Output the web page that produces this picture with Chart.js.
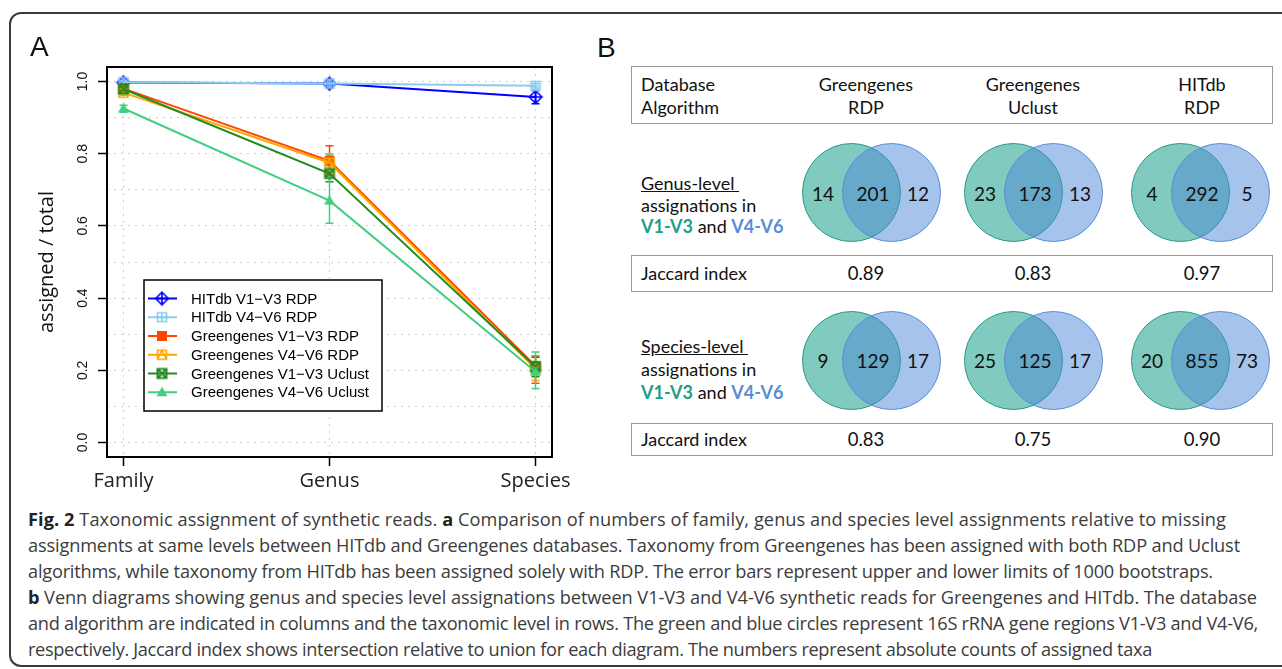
<!DOCTYPE html>
<html><head><meta charset="utf-8">
<script src="https://cdn.jsdelivr.net/npm/chart.js@4.4.0/dist/chart.umd.min.js"></script>
<style>
html,body{margin:0;padding:0;background:#fff;width:1282px;height:669px;overflow:hidden;position:relative;}
#frame{position:absolute;left:9px;top:12px;width:1300px;height:655px;border:2px solid #3a3a3a;border-radius:12px;box-sizing:border-box;}
#chartA{position:absolute;left:0;top:0;}
.lab{position:absolute;font-family:"Liberation Sans",Arial,sans-serif;font-size:28px;line-height:1;color:#111;}
.t{position:absolute;white-space:nowrap;line-height:1;font-family:Lato,sans-serif;font-size:18px;color:#111;}
.box{position:absolute;border:1px solid #9a9a9a;box-sizing:border-box;}
.ell{position:absolute;border-radius:50%;box-sizing:border-box;}
#caption{position:absolute;left:28px;top:506px;font-family:"Open Sans",sans-serif;font-size:18.2px;line-height:26px;color:#3c3c3c;}
#caption div{white-space:nowrap;}
#caption b{color:#222;}
</style></head>
<body>
<div id="frame"></div>
<canvas id="chartA" width="590" height="500"></canvas>
<div class="lab" style="left:30px;top:33px;">A</div>
<div class="lab" style="left:597px;top:34px;">B</div>
<div id="panelB"></div>
<div id="caption">
<div><span class="cl"><b>Fig. 2</b> Taxonomic assignment of synthetic reads. <b>a</b> Comparison of numbers of family, genus and species level assignments relative to missing</span></div>
<div><span class="cl">assignments at same levels between HITdb and Greengenes databases. Taxonomy from Greengenes has been assigned with both RDP and Uclust</span></div>
<div><span class="cl">algorithms, while taxonomy from HITdb has been assigned solely with RDP. The error bars represent upper and lower limits of 1000 bootstraps.</span></div>
<div><span class="cl"><b>b</b> Venn diagrams showing genus and species level assignations between V1-V3 and V4-V6 synthetic reads for Greengenes and HITdb. The database</span></div>
<div><span class="cl">and algorithm are indicated in columns and the taxonomic level in rows. The green and blue circles represent 16S rRNA gene regions V1-V3 and V4-V6,</span></div>
<div><span class="cl">respectively. Jaccard index shows intersection relative to union for each diagram. The numbers represent absolute counts of assigned taxa</span></div>
</div>
<script>
// ---------- Panel A data ----------
const categories = ['Family', 'Genus', 'Species'];
const seriesNames = ['HITdb V1\u2212V3 RDP', 'HITdb V4\u2212V6 RDP', 'Greengenes V1\u2212V3 RDP',
  'Greengenes V4\u2212V6 RDP', 'Greengenes V1\u2212V3 Uclust', 'Greengenes V4\u2212V6 Uclust'];
const hitdbV1V3Rdp = [0.997, 0.994, 0.957];
const hitdbV4V6Rdp = [0.998, 0.994, 0.988];
const ggV1V3Rdp = [0.980, 0.780, 0.212];
const ggV4V6Rdp = [0.969, 0.775, 0.204];
const ggV1V3Uclust = [0.979, 0.745, 0.210];
const ggV4V6Uclust = [0.925, 0.670, 0.196];
const errLow = [[0.995, 0.991, 0.938], [0.996, 0.991, 0.982], [0.974, 0.742, 0.164],
  [0.962, 0.748, 0.172], [0.972, 0.722, 0.182], [0.915, 0.607, 0.150]];
const errHigh = [[0.999, 0.997, 0.975], [1.000, 0.997, 0.994], [0.986, 0.822, 0.240],
  [0.976, 0.800, 0.236], [0.986, 0.768, 0.236], [0.934, 0.796, 0.251]];
const yGridValues = [0, 0.1, 0.2, 0.3, 0.4, 0.5, 0.6, 0.7, 0.8, 0.9, 1.0];
const yLabelValues = [0, 0.2, 0.4, 0.6, 0.8, 1.0];

// ---------- Panel B data ----------
const dbNames = ['Greengenes', 'Greengenes', 'HITdb'];
const algNames = ['RDP', 'Uclust', 'RDP'];
const genusCounts = [[14, 201, 12], [23, 173, 13], [4, 292, 5]];
const speciesCounts = [[9, 129, 17], [25, 125, 17], [20, 855, 73]];
const genusJaccard = ['0.89', '0.83', '0.97'];
const speciesJaccard = ['0.83', '0.75', '0.90'];

// ---------- Styles ----------
const seriesValues = [hitdbV1V3Rdp, hitdbV4V6Rdp, ggV1V3Rdp, ggV4V6Rdp, ggV1V3Uclust, ggV4V6Uclust];
const colors = ['#0000FF', '#87CEEB', '#FF4500', '#FFA500', '#228B22', '#43CD80'];
const markerTypes = ['diamondPlus', 'squarePlus', 'squareFilled', 'squareTriangle', 'squareX', 'triangleFilled'];

function makeMarker(type, color) {
  const c = document.createElement('canvas'); c.width = 16; c.height = 16;
  const g = c.getContext('2d'); g.strokeStyle = color; g.fillStyle = color; g.lineWidth = 1.6;
  const m = 8;
  g.beginPath();
  switch (type) {
    case 'diamondPlus':
      g.moveTo(m, m - 6.3); g.lineTo(m + 6.3, m); g.lineTo(m, m + 6.3); g.lineTo(m - 6.3, m); g.closePath();
      g.moveTo(m, m - 6.3); g.lineTo(m, m + 6.3); g.moveTo(m - 6.3, m); g.lineTo(m + 6.3, m); g.stroke(); break;
    case 'squarePlus':
      g.rect(m - 4.5, m - 4.5, 9, 9); g.moveTo(m, m - 4.5); g.lineTo(m, m + 4.5); g.moveTo(m - 4.5, m); g.lineTo(m + 4.5, m); g.stroke(); break;
    case 'squareFilled':
      g.fillRect(m - 5, m - 5, 10, 10); break;
    case 'squareTriangle':
      g.rect(m - 4.5, m - 4.5, 9, 9); g.moveTo(m - 4.5, m + 4.5); g.lineTo(m, m - 4.5); g.lineTo(m + 4.5, m + 4.5); g.stroke(); break;
    case 'squareX':
      g.lineWidth = 2; g.rect(m - 4.5, m - 4.5, 9, 9); g.moveTo(m - 4.5, m - 4.5); g.lineTo(m + 4.5, m + 4.5);
      g.moveTo(m + 4.5, m - 4.5); g.lineTo(m - 4.5, m + 4.5); g.stroke(); break;
    case 'triangleFilled':
      g.moveTo(m, m - 5.5); g.lineTo(m + 5.5, m + 4); g.lineTo(m - 5.5, m + 4); g.closePath(); g.fill(); break;
  }
  return c;
}
const markers = markerTypes.map((t, i) => makeMarker(t, colors[i]));

const framePlugin = {
  id: 'frame',
  afterDatasetsDraw(chart) {
    const { ctx, chartArea: a } = chart;
    ctx.save(); ctx.strokeStyle = '#000'; ctx.lineWidth = 2;
    ctx.strokeRect(a.left, a.top, a.right - a.left, a.bottom - a.top); ctx.restore();
  }
};
const errorBarPlugin = {
  id: 'errorBars',
  beforeDatasetsDraw(chart) {
    const ctx = chart.ctx, ys = chart.scales.y;
    ctx.save(); ctx.lineWidth = 1.5;
    chart.data.datasets.forEach((ds, i) => {
      const meta = chart.getDatasetMeta(i);
      ctx.strokeStyle = ds.borderColor;
      meta.data.forEach((pt, j) => {
        const y1 = ys.getPixelForValue(errLow[i][j]), y2 = ys.getPixelForValue(errHigh[i][j]);
        ctx.beginPath();
        ctx.moveTo(pt.x, y1); ctx.lineTo(pt.x, y2);
        ctx.moveTo(pt.x - 4, y1); ctx.lineTo(pt.x + 4, y1);
        ctx.moveTo(pt.x - 4, y2); ctx.lineTo(pt.x + 4, y2);
        ctx.stroke();
      });
    });
    ctx.restore();
  }
};
const legendPlugin = {
  id: 'insideLegend',
  afterDatasetsDraw(chart) {
    const { ctx, chartArea: a } = chart;
    const left = a.left + 37, top = a.top + 213, w = 238, h = 131;
    ctx.save();
    ctx.fillStyle = '#fff'; ctx.fillRect(left, top, w, h);
    ctx.strokeStyle = '#000'; ctx.lineWidth = 1.5; ctx.strokeRect(left, top, w, h);
    ctx.font = '15px "Liberation Sans", Arial, sans-serif'; ctx.textBaseline = 'middle'; ctx.fillStyle = '#000';
    chart.data.datasets.forEach((ds, i) => {
      const y = top + 18.5 + i * 18.75;
      ctx.strokeStyle = ds.borderColor; ctx.lineWidth = 2;
      ctx.beginPath(); ctx.moveTo(left + 4, y); ctx.lineTo(left + 33, y); ctx.stroke();
      Chart.helpers.drawPoint(ctx, { pointStyle: ds.pointStyle, radius: 6, rotation: 0, borderWidth: 0 }, left + 18, y);
      ctx.fillStyle = '#000'; ctx.fillText(ds.label, left + 47, y + 1);
    });
    ctx.restore();
  }
};

new Chart(document.getElementById('chartA'), {
  type: 'line',
  data: {
    datasets: seriesValues.map((vals, i) => ({
      label: seriesNames[i],
      data: vals.map((v, j) => ({ x: j, y: v })),
      borderColor: colors[i], backgroundColor: colors[i], borderWidth: 2,
      pointStyle: markers[i], pointRadius: 6, pointHoverRadius: 6, tension: 0, order: 6 - i
    }))
  },
  options: {
    responsive: false, animation: false, devicePixelRatio: 1,
    layout: { padding: { top: 67, right: 38, left: 0, bottom: 0 } },
    plugins: { legend: { display: false }, tooltip: { enabled: false } },
    scales: {
      x: {
        type: 'linear', min: -0.08, max: 2.08,
        afterBuildTicks: s => { s.ticks = categories.map((c, i) => ({ value: i })); },
        afterFit: s => { s.height = 43; },
        ticks: { callback: v => categories[v], font: { family: 'Open Sans', size: 20 }, color: '#222', padding: 3, maxRotation: 0, autoSkip: false },
        grid: { color: '#cfcfcf', lineWidth: 1, tickColor: '#000', tickLength: 9, tickWidth: 1.5 },
        border: { display: false, dash: [2, 5] }
      },
      y: {
        type: 'linear', min: -0.04, max: 1.04,
        afterBuildTicks: s => { s.ticks = yGridValues.map(v => ({ value: v })); },
        afterFit: s => { s.width = 107; },
        ticks: {
          callback: v => yLabelValues.some(l => Math.abs(l - v) < 1e-6) ? v.toFixed(1) : '',
          font: { family: 'Liberation Sans', size: 14 }, color: '#111',
          minRotation: 90, maxRotation: 90, crossAlign: 'center', padding: 5, autoSkip: false
        },
        grid: {
          color: '#cfcfcf', lineWidth: 1, tickLength: 9, tickWidth: 1.5,
          tickColor: c => yLabelValues.some(l => Math.abs(l - c.tick.value) < 1e-6) ? '#000' : 'rgba(0,0,0,0)'
        },
        border: { display: false, dash: [2, 5] },
        title: { display: true, text: 'assigned / total', font: { family: 'Open Sans', size: 20 }, color: '#111', padding: { top: 35, bottom: 0 } }
      }
    }
  },
  plugins: [errorBarPlugin, framePlugin, legendPlugin]
});

// ---------- Panel B ----------
const pb = document.getElementById('panelB');
function addText(text, x, y, opts = {}) {
  const d = document.createElement('div'); d.className = 't';
  d.style.left = x + 'px'; d.style.top = y + 'px';
  d.style.transform = opts.left ? 'translate(0,-50%)' : 'translate(-50%,-50%)';
  if (opts.size) d.style.fontSize = opts.size + 'px';
  if (opts.html) d.innerHTML = text; else d.textContent = text;
  pb.appendChild(d); return d;
}
function addBox(top, h) {
  const d = document.createElement('div'); d.className = 'box';
  d.style.left = '631px'; d.style.top = top + 'px'; d.style.width = '642px'; d.style.height = h + 'px';
  pb.appendChild(d);
}
const R = 49.5;
function addCircle(cx, cy, fill, stroke) {
  const d = document.createElement('div'); d.className = 'ell';
  d.style.left = (cx - R) + 'px'; d.style.top = (cy - R) + 'px';
  d.style.width = (2 * R) + 'px'; d.style.height = (2 * R) + 'px';
  d.style.background = fill; d.style.border = '1px solid ' + stroke;
  pb.appendChild(d);
}
const colX = [866, 1033, 1202];
const vennX = [871, 1033, 1200];
const leftFill = 'rgba(26,158,138,0.55)', rightFill = 'rgba(75,135,215,0.5)';
const labelX = 641;

addBox(66, 58);
addText('Database', labelX, 83.5, { left: true });
addText('Algorithm', labelX, 106.5, { left: true });
dbNames.forEach((n, i) => { addText(n, colX[i], 83.5); addText(algNames[i], colX[i], 106.5); });

function vennRow(counts, cy) {
  counts.forEach((c, i) => {
    const cx = vennX[i];
    addCircle(cx - 20, cy, leftFill, '#2a9a8a');
    addCircle(cx + 20, cy, rightFill, '#5a8fd8');
    addText(String(c[0]), cx - 48, cy, { size: 19 });
    addText(String(c[1]), cx + 2, cy, { size: 19 });
    addText(String(c[2]), cx + 47, cy, { size: 19 });
  });
}
vennRow(genusCounts, 192.7);
vennRow(speciesCounts, 360);

const v13 = '<b style="color:#1f9e8c">V1-V3</b> and <b style="color:#5b8dd6">V4-V6</b>';
addText('<span style="text-decoration:underline">Genus-level&nbsp;</span>', labelX, 183, { left: true, html: true });
addText('assignations in', labelX, 204.5, { left: true });
addText(v13, labelX, 226, { left: true, html: true });
addText('<span style="text-decoration:underline">Species-level&nbsp;</span>', labelX, 346, { left: true, html: true });
addText('assignations in', labelX, 368.5, { left: true });
addText(v13, labelX, 391.5, { left: true, html: true });

addBox(255, 37);
addText('Jaccard index', labelX, 273, { left: true });
genusJaccard.forEach((j, i) => addText(j, colX[i], 273, { size: 18.5 }));
addBox(423, 33);
addText('Jaccard index', labelX, 439, { left: true });
speciesJaccard.forEach((j, i) => addText(j, colX[i], 439, { size: 18.5 }));

// ---------- Caption: fit each line to its width in the figure ----------
const captionRightEdges = [1226, 1240, 1213, 1257, 1258, 1152];
document.querySelectorAll('#caption .cl').forEach((s, i) => {
  const w = s.getBoundingClientRect().width;
  const n = s.textContent.length;
  s.style.letterSpacing = ((captionRightEdges[i] - 28 - w) / n).toFixed(3) + 'px';
});
</script>
</body></html>
